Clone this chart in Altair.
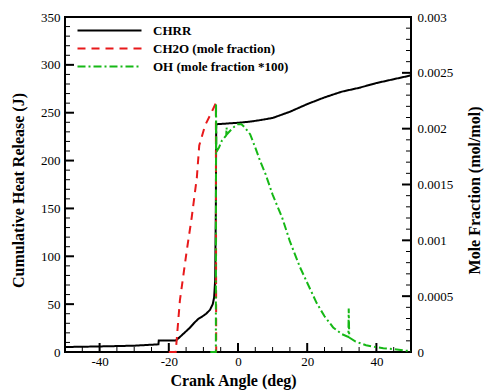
import altair as alt
import pandas as pd

# ---- data ----
series_names = ["CHRR", "CH2O (mole fraction)", "OH (mole fraction *100)"]
series_colors = ["#000000", "#e8191b", "#16b816"]
series_dashes = [[1, 0], [8, 6], [8, 3, 2, 3]]

chrr_angle = [-50, -40, -30, -23.0, -22.9, -18, -17, -15.8, -14, -12.5, -11.5, -10.5, -9.2, -8.1,
              -7.3, -6.9, -6.6, -6.4, -6.3, -4, -2, 0, 3, 6, 10, 15, 20, 25, 30, 35, 40, 45, 50]
chrr_joule = [5.2, 5.8, 6.6, 8, 12, 12, 15, 19, 25, 31, 34.5, 36.6, 40, 44,
              50, 57, 75, 150, 238, 238.5, 239, 239.5, 240.5, 242, 244.5, 251, 259, 266, 272, 276, 281, 285, 289]

ch2o_angle = [-20, -18, -16.8, -14.8, -13.4, -11.9, -11.2, -9.5, -7.6, -6.4, -6.3]
ch2o_frac = [0, 0, 0.00046, 0.00091, 0.0012, 0.00156, 0.00185, 0.00203, 0.00215, 0.00223, 0]

oh_angle = [-8, -6.4, -6.35, -6.25, -5.5, -4.7, -3.4, -3.3, -3.2, -2, -1, 0, 1, 2, 3.5, 5, 6.4, 8,
            10, 12.8, 15, 17.9, 20, 22.7, 25, 27.5, 30, 31.9, 32.0, 32.15, 34, 37, 40, 42, 45, 48, 50]
oh_frac = [0, 0, 0.00223, 0.00179, 0.00183, 0.00189, 0.00194, 0.00201, 0.00195, 0.00199, 0.00202,
           0.00204, 0.00204, 0.00201, 0.00195, 0.00183, 0.00171, 0.00159, 0.00141, 0.0012, 0.00099,
           0.00076, 0.00062, 0.00044, 0.00032, 0.00022, 0.00016, 0.000135, 0.00039, 0.00013, 0.000094,
           0.00006, 0.000043, 0.000034, 0.000026, 0.000013, 0.0000086]

x_labels = [-40, -20, 0, 20, 40]
left_labels = [0, 50, 100, 150, 200, 250, 300, 350]
right_labels = [0, 0.0005, 0.001, 0.0015, 0.002, 0.0025, 0.003]

x_major_ticks = [-40, -20, 0, 20, 40]
x_minor_ticks = [-45, -35, -30, -25, -15, -10, -5, 5, 10, 15, 25, 30, 35, 45]
left_major_ticks = [50, 100, 150, 200, 250, 300]
left_minor_ticks = [v for v in range(10, 350, 10) if v % 50 != 0]
right_major_ticks = [0.0005, 0.001, 0.0015, 0.002, 0.0025]
right_minor_ticks = [i / 10000 for i in range(1, 30) if i % 5 != 0]

# ---- tables ----
df_chrr = pd.DataFrame({"angle": chrr_angle, "value": chrr_joule, "series": series_names[0],
                        "idx": range(len(chrr_angle))})
df_ch2o = pd.DataFrame({"angle": ch2o_angle, "value": ch2o_frac, "series": series_names[1],
                        "idx": range(len(ch2o_angle))})
df_oh = pd.DataFrame({"angle": oh_angle, "value": oh_frac, "series": series_names[2],
                      "idx": range(len(oh_angle))})

W, H = 346, 335
FONT = "'Liberation Serif', 'Times New Roman', 'DejaVu Serif', serif"

xs = alt.Scale(domain=[-50, 50], nice=False, zero=False)
ls = alt.Scale(domain=[0, 350], nice=False)
rs = alt.Scale(domain=[0, 0.003], nice=False)

legend = alt.Legend(title=None, orient="none", legendX=38, legendY=7, symbolType="M-8,0H8",
                    symbolSize=64, symbolStrokeWidth=2, labelFont=FONT, labelFontSize=13,
                    labelFontWeight="bold", labelColor="black", labelOffset=37, rowPadding=4,
                    padding=0, labelLimit=300)
color = alt.Color("series:N", scale=alt.Scale(domain=series_names, range=series_colors), legend=legend)
dash = alt.StrokeDash("series:N", scale=alt.Scale(domain=series_names, range=series_dashes), legend=legend)

x_axis = alt.Axis(values=x_labels, title="Crank Angle (deg)", labelExpr="'' + datum.value",
                  labelPadding=3, titlePadding=4, titleX=168)
left_axis = alt.Axis(values=left_labels, title="Cumulative Heat Release (J)", labelPadding=5,
                     titlePadding=14, titleY=173)
right_axis = alt.Axis(values=right_labels, title="Mole Fraction (mol/mol)", orient="right",
                      format="~g", labelPadding=6, titlePadding=14, titleY=173,
                      titleAngle=270, titleBaseline="top")

chrr = alt.Chart(df_chrr).mark_line(strokeWidth=2).encode(
    x=alt.X("angle:Q", scale=xs, axis=x_axis),
    y=alt.Y("value:Q", scale=ls, axis=left_axis),
    color=color, strokeDash=dash, order="idx:Q")

ch2o = alt.Chart(df_ch2o).mark_line(strokeWidth=2).encode(
    x=alt.X("angle:Q", scale=xs, axis=x_axis),
    y=alt.Y("value:Q", scale=rs, axis=right_axis),
    color=color, strokeDash=dash, order="idx:Q")

oh = alt.Chart(df_oh).mark_line(strokeWidth=2).encode(
    x=alt.X("angle:Q", scale=xs, axis=x_axis),
    y=alt.Y("value:Q", scale=rs, axis=right_axis),
    color=color, strokeDash=dash, order="idx:Q")


def vticks(values, scale, axis, x0, x1, sw):
    return alt.Chart(pd.DataFrame({"v": values})).mark_rule(color="black", strokeWidth=sw).encode(
        y=alt.Y("v:Q", scale=scale, axis=axis), x=alt.value(x0), x2=alt.value(x1))


def hticks(values, y0, y1, sw):
    return alt.Chart(pd.DataFrame({"v": values})).mark_rule(color="black", strokeWidth=sw).encode(
        x=alt.X("v:Q", scale=xs, axis=x_axis), y=alt.value(y0), y2=alt.value(y1))


left = alt.layer(
    chrr,
    vticks(left_major_ticks, ls, left_axis, 0, 9, 2),
    vticks(left_minor_ticks, ls, left_axis, 0, 5, 1),
    hticks(x_major_ticks, H, H - 9, 2),
    hticks(x_minor_ticks, H, H - 5, 1),
)
right = alt.layer(
    ch2o, oh,
    vticks(right_major_ticks, rs, right_axis, W, W - 9, 2),
    vticks(right_minor_ticks, rs, right_axis, W, W - 5, 1),
)

chart = alt.layer(left, right).resolve_scale(y="independent").properties(
    width=W, height=H, background="white",
    padding={"left": 65, "top": 17, "right": 74, "bottom": 40},
    autosize=alt.AutoSizeParams(type="none"),
).configure_view(stroke="black", strokeWidth=2).configure_axis(
    domain=False, ticks=False, grid=False,
    labelFont=FONT, labelFontSize=13, labelColor="black",
    titleFont=FONT, titleFontSize=16, titleFontWeight="bold", titleColor="black",
)

chart.save("out.html", embed_options={"renderer": "svg", "actions": False})
